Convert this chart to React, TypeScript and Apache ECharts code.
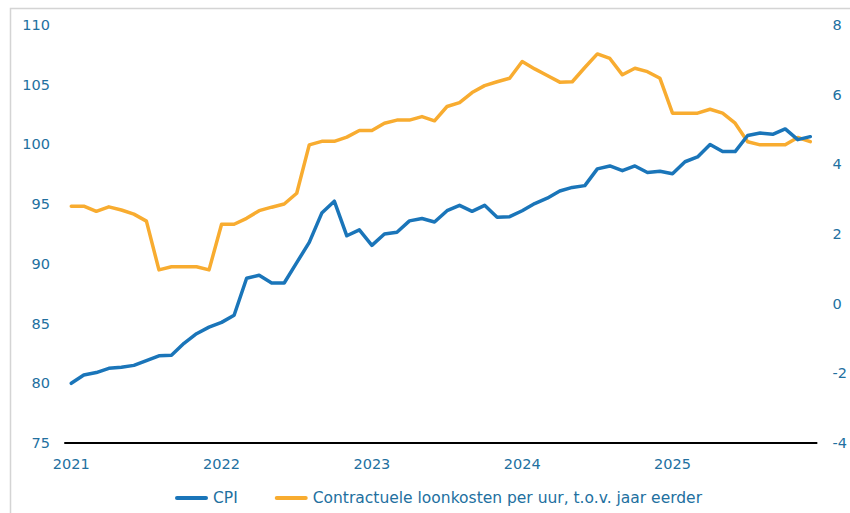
import React, { useEffect, useRef } from "react";
import * as echarts from "echarts";

const years = ["2021", "2022", "2023", "2024", "2025"];
const months = ["01", "02", "03", "04", "05", "06", "07", "08", "09", "10", "11", "12"];
const categories: string[] = years.flatMap((y) => months.map((m) => `${y}-${m}`));

const cpi = [
  80.0, 80.7, 80.9, 81.25, 81.35, 81.5, 81.9, 82.3, 82.35, 83.35, 84.15, 84.7,
  85.1, 85.7, 88.8, 89.05, 88.4, 88.4, 90.1, 91.8, 94.25, 95.25, 92.35, 92.85,
  91.55, 92.5, 92.65, 93.6, 93.8, 93.5, 94.45, 94.9, 94.4, 94.9, 93.9, 93.95,
  94.45, 95.05, 95.5, 96.1, 96.4, 96.55, 97.95, 98.2, 97.8, 98.2, 97.65, 97.75,
  97.55, 98.55, 98.95, 100.0, 99.4, 99.4, 100.75, 100.95, 100.85, 101.3, 100.4, 100.65,
];

const wages = [
  2.8, 2.8, 2.65, 2.78, 2.69, 2.57, 2.37, 0.97, 1.06, 1.06, 1.06, 0.97,
  2.28, 2.28, 2.45, 2.67, 2.77, 2.86, 3.17, 4.56, 4.66, 4.66, 4.78, 4.97,
  4.97, 5.18, 5.27, 5.27, 5.37, 5.25, 5.66, 5.77, 6.06, 6.26, 6.37, 6.47,
  6.95, 6.74, 6.55, 6.36, 6.37, 6.78, 7.17, 7.04, 6.57, 6.76, 6.66, 6.47,
  5.47, 5.47, 5.47, 5.58, 5.47, 5.18, 4.65, 4.56, 4.56, 4.56, 4.77, 4.65,
];

const seriesNames = ["CPI", "Contractuele loonkosten per uur, t.o.v. jaar eerder"];

const TEXT = "#22709f";
const BLUE = "#1a75b9";
const ORANGE = "#f8ac30";
const FONT = "DejaVu Sans";

export default function App() {
  const ref = useRef<HTMLDivElement>(null);

  useEffect(() => {
    if (!ref.current) return;
    const chart = echarts.init(ref.current, null, { renderer: "svg" });
    const capsule = "path://M2,0 H31 A2,2 0 0 1 31,4 H2 A2,2 0 0 1 2,0 Z";
    chart.setOption({
      animation: false,
      backgroundColor: "#ffffff",
      textStyle: { fontFamily: FONT },
      grid: { left: 65, right: 31, top: 25, bottom: 70, containLabel: false },
      graphic: [
        {
          type: "rect",
          shape: { x: 10.5, y: 8.5, width: 900, height: 600 },
          style: { fill: "none", stroke: "#d4d4d4", lineWidth: 1.5 },
          silent: true,
          z: -10,
        },
      ],
      legend: {
        bottom: 7,
        left: 175,
        padding: 0,
        itemWidth: 33,
        itemHeight: 4,
        itemGap: 37,
        textStyle: { color: TEXT, fontSize: 15.5, fontFamily: FONT },
        data: [
          { name: seriesNames[0], icon: capsule, itemStyle: { color: BLUE } },
          { name: seriesNames[1], icon: capsule, itemStyle: { color: ORANGE } },
        ],
      },
      xAxis: {
        type: "category",
        data: categories,
        boundaryGap: true,
        axisLine: { show: true, onZero: false, lineStyle: { color: "#000000", width: 2 } },
        axisTick: { show: false },
        splitLine: { show: false },
        axisLabel: {
          interval: 11,
          margin: 13,
          color: TEXT,
          fontSize: 14.5,
          fontFamily: FONT,
          formatter: (v: string) => v.slice(0, 4),
        },
      },
      yAxis: [
        {
          type: "value",
          min: 75,
          max: 110,
          interval: 5,
          position: "left",
          axisLine: { show: false },
          axisTick: { show: false },
          splitLine: { show: false },
          axisLabel: { color: TEXT, fontSize: 14.5, fontFamily: FONT, margin: 15 },
        },
        {
          type: "value",
          min: -4,
          max: 8,
          interval: 2,
          position: "right",
          axisLine: { show: false },
          axisTick: { show: false },
          splitLine: { show: false },
          axisLabel: { color: TEXT, fontSize: 14.5, fontFamily: FONT, margin: 16 },
        },
      ],
      series: [
        {
          name: seriesNames[0],
          type: "line",
          yAxisIndex: 0,
          data: cpi,
          symbol: "none",
          lineStyle: { color: BLUE, width: 3.5, join: "round", cap: "round" },
          itemStyle: { color: BLUE },
          z: 3,
        },
        {
          name: seriesNames[1],
          type: "line",
          yAxisIndex: 1,
          data: wages,
          symbol: "none",
          lineStyle: { color: ORANGE, width: 3.5, join: "round", cap: "round" },
          itemStyle: { color: ORANGE },
          z: 2,
        },
      ],
    });
    return () => chart.dispose();
  }, []);

  return (
    <div
      ref={ref}
      style={{ position: "absolute", left: 0, top: 0, width: 850, height: 513 }}
    />
  );
}
